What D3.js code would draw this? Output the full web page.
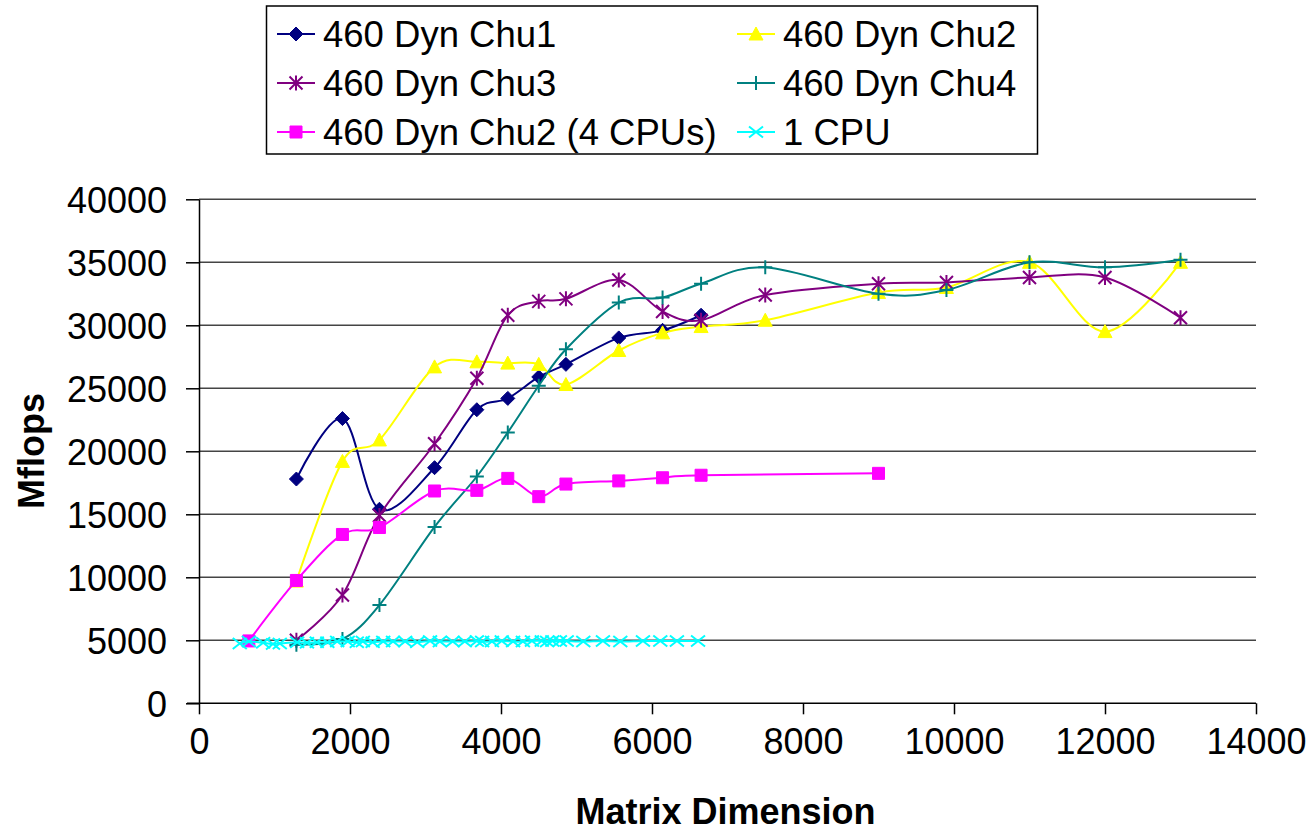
<!DOCTYPE html>
<html>
<head>
<meta charset="utf-8">
<script src="https://cdn.jsdelivr.net/npm/d3@7"></script>
<style>
  body { margin: 0; background: #fff; }
  svg { display: block; font-family: "Liberation Sans", Arial, sans-serif; }
</style>
</head>
<body>
<svg id="chart" width="1310" height="832"></svg>
<script>
'use strict';

// Axes
const X_TICKS = [0, 2000, 4000, 6000, 8000, 10000, 12000, 14000];
const Y_TICKS = [0, 5000, 10000, 15000, 20000, 25000, 30000, 35000, 40000];
const X_TITLE = "Matrix Dimension";
const Y_TITLE = "Mflops";

// Series values, [matrix dimension, Mflops]
const chu1 = [[1290, 17800], [1900, 22600], [2390, 15400], [3120, 18700], [3680, 23300],
    [4090, 24200], [4500, 25900], [4860, 26900], [5560, 29000], [6140, 29600], [6650, 30800]];
const chu2 = [[1290, 9700], [1900, 19200], [2390, 20900], [3120, 26700], [3680, 27100],
    [4090, 27000], [4500, 26900], [4860, 25300], [5560, 28000], [6140, 29400], [6650, 29900],
    [7500, 30400], [9000, 32600], [9900, 33000], [11000, 35000], [12000, 29500], [13000, 35000]];
const chu3 = [[1290, 5000], [1900, 8600], [2390, 14900], [3120, 20600], [3680, 25800],
    [4090, 30800], [4500, 31900], [4860, 32100], [5560, 33600], [6140, 31100], [6650, 30400],
    [7500, 32400], [9000, 33300], [9900, 33400], [11000, 33800], [12000, 33800], [13000, 30600]];
const chu4 = [[1290, 4650], [1900, 5100], [2390, 7800], [3120, 14000], [3680, 18000],
    [4090, 21500], [4500, 25200], [4860, 28100], [5560, 31800], [6140, 32200], [6650, 33300],
    [7500, 34600], [9000, 32500], [9900, 32800], [11000, 35000], [12000, 34600], [13000, 35200]];
const chu2x4 = [[660, 4950], [1290, 9750], [1900, 13400], [2390, 13950], [3120, 16850],
    [3680, 16900], [4090, 17850], [4500, 16400], [4860, 17400], [5560, 17650], [6140, 17900],
    [6650, 18100], [9000, 18250]];
const oneCpu = [[540, 4750], [660, 4900], [850, 4800], [980, 4700], [1070, 4750], [1300, 4850],
    [1430, 4800], [1560, 4850], [1700, 4850], [1830, 4900], [1970, 4900], [2090, 4850],
    [2170, 4900], [2300, 4850], [2440, 4900], [2570, 4900], [2730, 4900], [2890, 4850],
    [3060, 4950], [3190, 4900], [3360, 4900], [3520, 4900], [3680, 4950], [3750, 4900],
    [3880, 4900], [4010, 4950], [4160, 4900], [4290, 4900], [4410, 4950], [4540, 4950],
    [4610, 4900], [4680, 4950], [4780, 4950], [4870, 4950], [5090, 4900], [5350, 4950],
    [5580, 4900], [5880, 4950], [6110, 4950], [6330, 4950], [6610, 4950]];

const SERIES_NAMES = ["460 Dyn Chu1", "460 Dyn Chu2", "460 Dyn Chu3", "460 Dyn Chu4",
    "460 Dyn Chu2 (4 CPUs)", "1 CPU"];
const SERIES_VALUES = [chu1, chu2, chu3, chu4, chu2x4, oneCpu];
const SERIES_COLORS = ["#000080", "#ffff00", "#800080", "#008080", "#ff00ff", "#00ffff"];
const SERIES_MARKERS = ["diamond", "triangle", "asterisk", "plus", "square", "cross"];

const svg = d3.select("#chart");

const x = d3.scaleLinear().domain([0, 14000]).range([199, 1256]);
const y = d3.scaleLinear().domain([0, 40000]).range([703.3, 199.3]);

/**
 * Chemin d'un marqueur centré en 0,0
 */
function markerPath(type) {
    switch (type) {
        case "diamond":
            return "M0,-7L7,0L0,7L-7,0Z";
        case "triangle":
            return "M0,-7L7,6L-7,6Z";
        case "square":
            return "M-6,-6H6V6H-6Z";
        case "plus":
            return "M-7,0H7M0,-7V7";
        case "cross":
            return "M-7,-5.5L7,5.5M-7,5.5L7,-5.5";
        default: // asterisk
            return "M-6.5,-6.5L6.5,6.5M-6.5,6.5L6.5,-6.5M0,-7.5V7.5";
    }
}

function drawMarker(g, type, color, cx, cy) {
    const filled = ["diamond", "triangle", "square"].includes(type);
    g.append("path")
        .attr("d", markerPath(type))
        .attr("transform", `translate(${cx},${cy})`)
        .attr("fill", filled ? color : "none")
        .attr("stroke", color)
        .attr("stroke-width", filled ? 1 : 2);
}

// Grid lines
svg.append("g")
    .selectAll("line")
    .data(Y_TICKS.filter(d => d > 0))
    .join("line")
    .attr("x1", x(0)).attr("x2", x(14000))
    .attr("y1", d => y(d)).attr("y2", d => y(d))
    .attr("stroke", "#444")
    .attr("stroke-width", 1.5);

// Axes
const xAxis = svg.append("g")
    .attr("transform", `translate(0,${y(0)})`)
    .call(d3.axisBottom(x).tickValues(X_TICKS).tickFormat(d3.format("d"))
        .tickSize(11).tickSizeOuter(0).tickPadding(14));
const yAxis = svg.append("g")
    .attr("transform", `translate(${x(0)},0)`)
    .call(d3.axisLeft(y).tickValues(Y_TICKS).tickFormat(d3.format("d"))
        .tickSize(13).tickSizeOuter(0).tickPadding(19));

[xAxis, yAxis].forEach(a => {
    a.selectAll("path, line").attr("stroke", "#000").attr("stroke-width", 1.5);
    a.selectAll("text").attr("fill", "#000").style("font-size", "36px")
        .style("font-family", '"Liberation Sans", Arial, sans-serif');
});
yAxis.selectAll("text").attr("dy", "0.36em");
xAxis.select(".domain").attr("d", `M${x(0) - 12},0H${x(14000)}`);

// Axis titles
svg.append("text")
    .attr("x", x(7000) - 2).attr("y", 824)
    .attr("text-anchor", "middle")
    .style("font-size", "36px").style("font-weight", "bold")
    .text(X_TITLE);
svg.append("text")
    .attr("transform", "translate(44,451) rotate(-90)")
    .attr("text-anchor", "middle")
    .style("font-size", "36px").style("font-weight", "bold")
    .text(Y_TITLE);

// Series lines and markers
const line = d3.line()
    .x(d => x(d[0]))
    .y(d => y(d[1]))
    .curve(d3.curveCardinal.tension(0));

SERIES_VALUES.forEach((values, i) => {
    const g = svg.append("g");
    g.append("path")
        .attr("d", line(values))
        .attr("fill", "none")
        .attr("stroke", SERIES_COLORS[i])
        .attr("stroke-width", 2);
    values.forEach(d => drawMarker(g, SERIES_MARKERS[i], SERIES_COLORS[i], x(d[0]), y(d[1])));
});

// Legend
const legend = svg.append("g");
legend.append("rect")
    .attr("x", 266.5).attr("y", 6).attr("width", 771).attr("height", 148)
    .attr("fill", "#fff").attr("stroke", "#000").attr("stroke-width", 1.5);

const colX = [277, 737];
const rowY = [34, 83, 132];
SERIES_NAMES.forEach((name, i) => {
    const lx = colX[i % 2];
    const ly = rowY[Math.floor(i / 2)];
    legend.append("line")
        .attr("x1", lx).attr("x2", lx + 38)
        .attr("y1", ly).attr("y2", ly)
        .attr("stroke", SERIES_COLORS[i]).attr("stroke-width", 2);
    drawMarker(legend, SERIES_MARKERS[i], SERIES_COLORS[i], lx + 19, ly);
    legend.append("text")
        .attr("x", lx + 46).attr("y", ly + 13)
        .style("font-size", "36.5px")
        .text(name);
});
</script>
</body>
</html>
